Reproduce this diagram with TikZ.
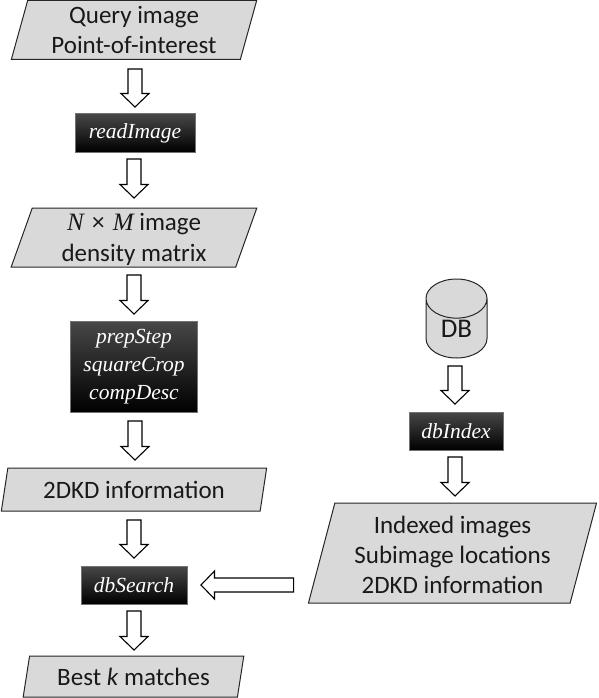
\documentclass[tikz,border=0pt]{standalone}
\usepackage{fontspec}
\setmainfont{Carlito}
\newfontfamily\serifit{Liberation Serif}
\usetikzlibrary{shapes.geometric,calc}
\definecolor{boxgray}{HTML}{D9D9D9}
\tikzset{
  x=1pt,y=-1pt,
  para/.style={shape=trapezium,trapezium left angle=75,trapezium right angle=105,trapezium stretches=true,
    draw=black!85,fill=boxgray,line width=1pt,inner sep=0pt,outer sep=0pt,align=center,font=\fontsize{25}{30}\selectfont,text=black!90},
  proc/.style={shape=rectangle,draw=black!55,line width=1pt,top color=black!72,middle color=black,bottom color=black,
    inner sep=0pt,outer sep=0pt,align=center,text=white,font=\fontsize{21.5}{28}\selectfont\serifit\itshape},
  dbcyl/.style={shape=cylinder,shape border rotate=90,aspect=1.25,anchor=shape center,draw=black!85,fill=boxgray,line width=1pt,
    inner sep=0pt,outer sep=0pt,font=\fontsize{27}{30}\selectfont,text=black!90},
  blockarrow/.style={draw=black,fill=white,line width=1.1pt,line join=miter,
    to path={
      coordinate (bas) at ($(\tikztotarget)!13.5pt!(\tikztostart)$)
      ($(\tikztostart)!7pt!-90:(\tikztotarget)$) -- ($(bas)!7pt!-90:(\tikztotarget)$)
      -- ($(bas)!14pt!-90:(\tikztotarget)$) -- (\tikztotarget)
      -- ($(bas)!14pt!90:(\tikztotarget)$) -- ($(bas)!7pt!90:(\tikztotarget)$)
      -- ($(\tikztostart)!7pt!90:(\tikztotarget)$) -- cycle}}
}
\begin{document}
\begin{tikzpicture}
\useasboundingbox (0,0) rectangle (598,698);
\node[para,minimum width=246,minimum height=59] (q) at (134,30) {Query image\\Point-of-interest};
\node[proc,minimum width=120,minimum height=38] (r) at (135,133) {readImage};
\node[para,minimum width=246,minimum height=59] (n) at (134,237.5) {\rule{0pt}{21pt}{\serifit\itshape N}\,\,×\,\,{\serifit\itshape M} image\\[1pt]density matrix};
\node[proc,minimum width=127,minimum height=91] (p) at (134,366.5) {prepStep\\squareCrop\\compDesc};
\node[para,minimum width=266,minimum height=43] (k) at (134,489.5) {2DKD information};
\node[proc,minimum width=106,minimum height=38] (s) at (134,585) {dbSearch};
\node[para,minimum width=221,minimum height=41] (b) at (133.5,676.5) {Best \textit{k} matches};
\node[dbcyl,minimum width=61,minimum height=79] (d) at (456.5,318.5) {\raisebox{-15pt}{DB}};
\node[proc,minimum width=94,minimum height=38] (x) at (456,431) {dbIndex};
\node[para,minimum width=289,minimum height=100] (i) at (452.5,553) {\rule{0pt}{22pt}Indexed images\\Subimage locations\\2DKD information};
\coordinate (qa) at ($(q.south)+(1,9.5)$);  \coordinate (ra) at ($(r.north)+(0,-7)$);
\coordinate (rb) at ($(r.south)+(-1,7)$); \coordinate (na) at ($(n.north)+(0,-10)$);
\coordinate (nb) at ($(n.south)+(0,8)$); \coordinate (pa) at ($(p.north)+(0,-7)$);
\coordinate (pb) at ($(p.south)+(1,9)$); \coordinate (ka) at ($(k.north)+(1,-8)$);
\coordinate (kb) at ($(k.south)+(0,9)$); \coordinate (sa) at ($(s.north)+(0,-8)$);
\coordinate (sb) at ($(s.south)+(0,7)$); \coordinate (ba) at ($(b.north)+(0.5,-6)$);
\coordinate (da) at ($(d.south)+(-1.5,8)$); \coordinate (xa) at ($(x.north)+(-1,-8)$);
\coordinate (xb) at ($(x.south)+(-1,7)$); \coordinate (ia) at ($(i.north)+(2.5,-7)$);
\coordinate (ic) at ($(i.west |- s.east)+(-28,0)$); \coordinate (sc) at ($(s.east)+(14,0)$);
\draw[blockarrow] (qa) to (ra);
\draw[blockarrow] (rb) to (na);
\draw[blockarrow] (nb) to (pa);
\draw[blockarrow] (pb) to (ka);
\draw[blockarrow] (kb) to (sa);
\draw[blockarrow] (sb) to (ba);
\draw[blockarrow] (da) to (xa);
\draw[blockarrow] (xb) to (ia);
\draw[blockarrow] (ic) to (sc);
\end{tikzpicture}
\end{document}
